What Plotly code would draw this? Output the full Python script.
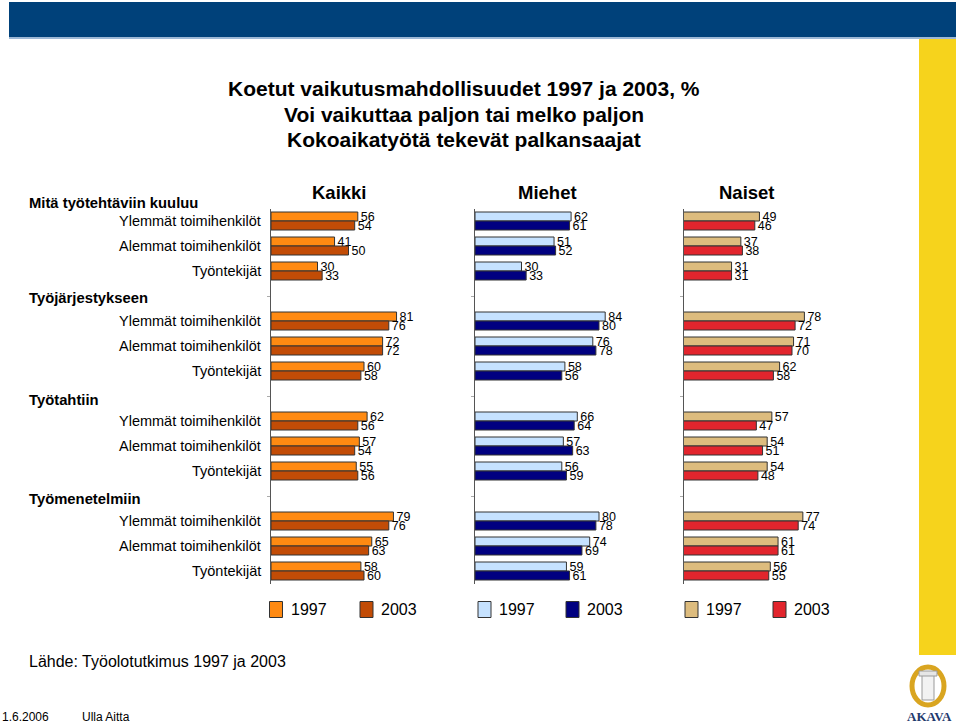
import plotly.graph_objects as go

W, H = 960, 726
FONT = "Liberation Sans, Arial, sans-serif"

# ---- data ----
groups = ["Mitä työtehtäviin kuuluu", "Työjärjestykseen", "Työtahtiin", "Työmenetelmiin"]
roles = ["Ylemmät toimihenkilöt", "Alemmat toimihenkilöt", "Työntekijät"]
panels = ["Kaikki", "Miehet", "Naiset"]
years = ["1997", "2003"]

kaikki_1997 = [56, 41, 30, 81, 72, 60, 62, 57, 55, 79, 65, 58]
kaikki_2003 = [54, 50, 33, 76, 72, 58, 56, 54, 56, 76, 63, 60]
miehet_1997 = [62, 51, 30, 84, 76, 58, 66, 57, 56, 80, 74, 59]
miehet_2003 = [61, 52, 33, 80, 78, 56, 64, 63, 59, 78, 69, 61]
naiset_1997 = [49, 37, 31, 78, 71, 62, 57, 54, 54, 77, 61, 56]
naiset_2003 = [46, 38, 31, 72, 70, 58, 47, 51, 48, 74, 61, 55]

series = [
    (kaikki_1997, kaikki_2003, "#FF8A12", "#C24C06"),
    (miehet_1997, miehet_2003, "#C6E2FF", "#000080"),
    (naiset_1997, naiset_2003, "#DDBC7E", "#E2252D"),
]

# slot positions (empty slot between groups)
slots = []
for g in range(len(groups)):
    for r in range(len(roles)):
        slots.append(g * 4 + r)


def px(x):
    return x / W


def py(y):
    return 1 - y / H


panel_left = [271, 475, 683.5]
panel_w = 155
y_top, y_bot = 208.5, 583.5

fig = go.Figure()
for i, (v97, v03, c97, c03) in enumerate(series):
    xa = "x" if i == 0 else f"x{i+1}"
    ya = "y" if i == 0 else f"y{i+1}"
    for vals, col, yr in ((v97, c97, years[0]), (v03, c03, years[1])):
        fig.add_trace(go.Bar(
            x=vals, y=slots, orientation="h", xaxis=xa, yaxis=ya,
            name=yr, marker=dict(color=col, line=dict(color="#333333", width=1)),
            text=[str(v) for v in vals], textposition="outside",
            textfont=dict(family=FONT, size=12.5, color="#000000"),
            constraintext="none", cliponaxis=False, hoverinfo="x",
        ))

layout = dict(
    width=W, height=H, margin=dict(l=0, r=0, t=0, b=0),
    paper_bgcolor="white", plot_bgcolor="rgba(0,0,0,0)",
    showlegend=False, barmode="group", bargap=0.28, bargroupgap=0,
    font=dict(family=FONT, color="#000000"),
)
for i in range(3):
    sfx = "" if i == 0 else str(i + 1)
    layout["xaxis" + sfx] = dict(
        domain=[px(panel_left[i]), px(panel_left[i] + panel_w)], range=[0, 100],
        visible=False, anchor="y" + sfx, fixedrange=True,
    )
    layout["yaxis" + sfx] = dict(
        domain=[py(y_bot), py(y_top)], range=[14.5, -0.5], anchor="x" + sfx,
        showline=True, linecolor="#555555", linewidth=1, showgrid=False,
        zeroline=False, tickvals=[3, 7, 11], ticks="outside", ticklen=3,
        tickcolor="#aaaaaa", showticklabels=False, fixedrange=True,
    )
fig.update_layout(**layout)

ann = []
# main title
for txt, y in (("Koetut vaikutusmahdollisuudet 1997 ja 2003, %", 88),
               ("Voi vaikuttaa paljon tai melko paljon", 114),
               ("Kokoaikatyötä tekevät palkansaajat", 139)):
    ann.append(dict(text=f"<b>{txt}</b>", x=px(464), y=py(y), xref="paper", yref="paper",
                    xanchor="center", yanchor="middle", showarrow=False,
                    font=dict(size=21, family=FONT)))
# panel titles
for name, cx in zip(panels, (339, 547, 747)):
    ann.append(dict(text=f"<b>{name}</b>", x=px(cx), y=py(192), xref="paper", yref="paper",
                    xanchor="center", yanchor="middle", showarrow=False,
                    font=dict(size=18.5, family=FONT)))
# group headers
for g, y in zip(groups, (203, 298, 400, 499)):
    ann.append(dict(text=f"<b>{g}</b>", x=px(27), y=py(y), xref="paper", yref="paper",
                    xanchor="left", yanchor="middle", showarrow=False,
                    font=dict(size=14.8, family=FONT)))
# role labels
for g in range(len(groups)):
    for r, role in enumerate(roles):
        ann.append(dict(text=role, x=px(263), y=g * 4 + r, xref="paper", yref="y",
                        xanchor="right", yanchor="middle", showarrow=False,
                        font=dict(size=14.5, family=FONT)))
# legend
shapes = []
leg_items = [(269.5, series[0][2]), (360, series[0][3]), (478, series[1][2]),
             (566, series[1][3]), (685, series[2][2]), (773, series[2][3])]
for k, (x0, col) in enumerate(leg_items):
    shapes.append(dict(type="rect", xref="paper", yref="paper",
                       x0=px(x0), x1=px(x0 + 13), y0=py(617.5), y1=py(601.5),
                       fillcolor=col, line=dict(color="#333333", width=1)))
    ann.append(dict(text=years[k % 2], x=px(x0 + 19), y=py(609), xref="paper", yref="paper",
                    xanchor="left", yanchor="middle", showarrow=False,
                    font=dict(size=16, family=FONT)))
# footer
ann.append(dict(text="Lähde: Työolotutkimus 1997 ja 2003", x=px(27), y=py(661), xref="paper",
                yref="paper", xanchor="left", yanchor="middle", showarrow=False,
                font=dict(size=16, family=FONT)))
ann.append(dict(text="1.6.2006", x=px(0), y=py(717), xref="paper", yref="paper",
                xanchor="left", yanchor="middle", showarrow=False, font=dict(size=12, family=FONT)))
ann.append(dict(text="Ulla Aitta", x=px(80), y=py(717), xref="paper", yref="paper",
                xanchor="left", yanchor="middle", showarrow=False, font=dict(size=12, family=FONT)))
# logo text
ann.append(dict(text="<b>AKAVA</b>", x=px(929), y=py(716), xref="paper", yref="paper",
                xanchor="center", yanchor="middle", showarrow=False,
                font=dict(size=13, family="Liberation Serif, serif", color="#1F3A6E")))

# decorative band and strip
shapes += [
    dict(type="rect", xref="paper", yref="paper", x0=px(9), x1=px(956), y0=py(37), y1=py(2),
         fillcolor="#00417A", line=dict(width=0), layer="below"),
    dict(type="rect", xref="paper", yref="paper", x0=px(9), x1=px(956), y0=py(39), y1=py(37),
         fillcolor="#9DB8D6", line=dict(width=0), layer="below"),
    dict(type="rect", xref="paper", yref="paper", x0=px(919), x1=px(956), y0=py(655), y1=py(39),
         fillcolor="#F6D31C", line=dict(width=0), layer="below"),
    # logo laurel and column
    dict(type="circle", xref="paper", yref="paper", x0=px(912), x1=px(944), y0=py(705), y1=py(667),
         fillcolor="rgba(0,0,0,0)", line=dict(color="#D9A520", width=5)),
    dict(type="rect", xref="paper", yref="paper", x0=px(922), x1=px(934), y0=py(700), y1=py(674),
         fillcolor="#F2F2F2", line=dict(color="#9A9A9A", width=1)),
    dict(type="rect", xref="paper", yref="paper", x0=px(919), x1=px(937), y0=py(676), y1=py(671),
         fillcolor="#E6E6E6", line=dict(color="#9A9A9A", width=1)),
]

fig.update_layout(annotations=ann, shapes=shapes)
fig.write_html(
    "out.html",
    config={"displayModeBar": False},
    post_script="document.body.style.margin='0';document.body.style.overflow='hidden';",
)
